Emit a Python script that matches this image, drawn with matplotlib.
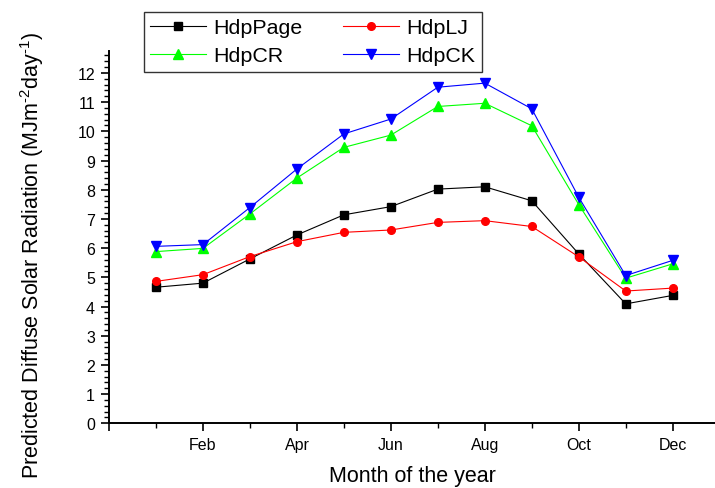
import matplotlib
matplotlib.use("Agg")
import matplotlib.pyplot as plt
from matplotlib.ticker import MultipleLocator, FixedLocator

plt.rcParams["font.family"] = ["Liberation Sans", "DejaVu Sans"]
plt.rcParams["mathtext.fontset"] = "custom"
plt.rcParams["mathtext.rm"] = "Liberation Sans"
plt.rcParams["mathtext.it"] = "Liberation Sans:italic"

# Data (month 1..12)
months = list(range(1, 13))
month_labels = ["Feb", "Apr", "Jun", "Aug", "Oct", "Dec"]
hdp_page = [4.66, 4.80, 5.63, 6.45, 7.14, 7.42, 8.02, 8.10, 7.62, 5.80, 4.09, 4.38]
hdp_lj = [4.86, 5.09, 5.71, 6.22, 6.54, 6.62, 6.88, 6.94, 6.74, 5.70, 4.53, 4.63]
hdp_cr = [5.88, 5.99, 7.17, 8.40, 9.45, 9.87, 10.85, 10.96, 10.19, 7.49, 4.97, 5.46]
hdp_ck = [6.06, 6.12, 7.39, 8.71, 9.91, 10.42, 11.51, 11.65, 10.77, 7.74, 5.06, 5.58]

fig = plt.figure(figsize=(7.15, 4.89), dpi=100)
ax = fig.add_axes([109 / 715, 1 - 424.3 / 489, 606 / 715, 372.3 / 489])

l_page, = ax.plot(months, hdp_page, color="black", lw=0.8, marker="s", ms=5.5, label="HdpPage")
l_lj, = ax.plot(months, hdp_lj, color="red", lw=0.8, marker="o", ms=5.5, label="HdpLJ")
l_cr, = ax.plot(months, hdp_cr, color="#00ff00", lw=0.8, marker="^", ms=7, label="HdpCR")
l_ck, = ax.plot(months, hdp_ck, color="blue", lw=0.8, marker="v", ms=7, label="HdpCK")

ax.set_xlim(0, 12.9)
ax.set_ylim(0, 12.75)

ax.xaxis.set_major_locator(FixedLocator([0, 2, 4, 6, 8, 10, 12]))
ax.xaxis.set_minor_locator(FixedLocator([1, 3, 5, 7, 9, 11]))
ax.set_xticklabels([""] + month_labels)
ax.yaxis.set_major_locator(MultipleLocator(1))
ax.yaxis.set_minor_locator(MultipleLocator(0.2))

for side in ["top", "right"]:
    ax.spines[side].set_visible(False)
for side in ["left", "bottom"]:
    ax.spines[side].set_linewidth(1.4)

ax.tick_params(which="major", direction="out", length=6, width=1.2, labelsize=11.5, pad=4)
ax.tick_params(which="minor", direction="out", length=3.5, width=1.0)

ax.set_xlabel("Month of the year", fontsize=15.5, labelpad=9)
ax.set_ylabel(r"Predicted Diffuse Solar Radiation (MJm$^{\text{-2}}$day$^{\text{-1}}$)", fontsize=15.5)
ax.yaxis.label.set_va("center")
ax.yaxis.set_label_coords(-0.127, 0.455)

# legend rows: HdpPage / HdpLJ on top, HdpCR / HdpCK below
handles = [l_page, l_cr, l_lj, l_ck]
leg = fig.legend(handles, [h.get_label() for h in handles],
                 loc="upper left", bbox_to_anchor=(144 / 715, 1 - 12.7 / 489), ncol=2,
                 fontsize=15.4, frameon=True, fancybox=False, borderaxespad=0,
                 handlelength=2.6, handletextpad=0.35, columnspacing=1.9,
                 borderpad=0.3, labelspacing=0.42)
leg.get_frame().set_edgecolor("black")
leg.get_frame().set_linewidth(1.0)

fig.savefig("out.png", dpi=100)
